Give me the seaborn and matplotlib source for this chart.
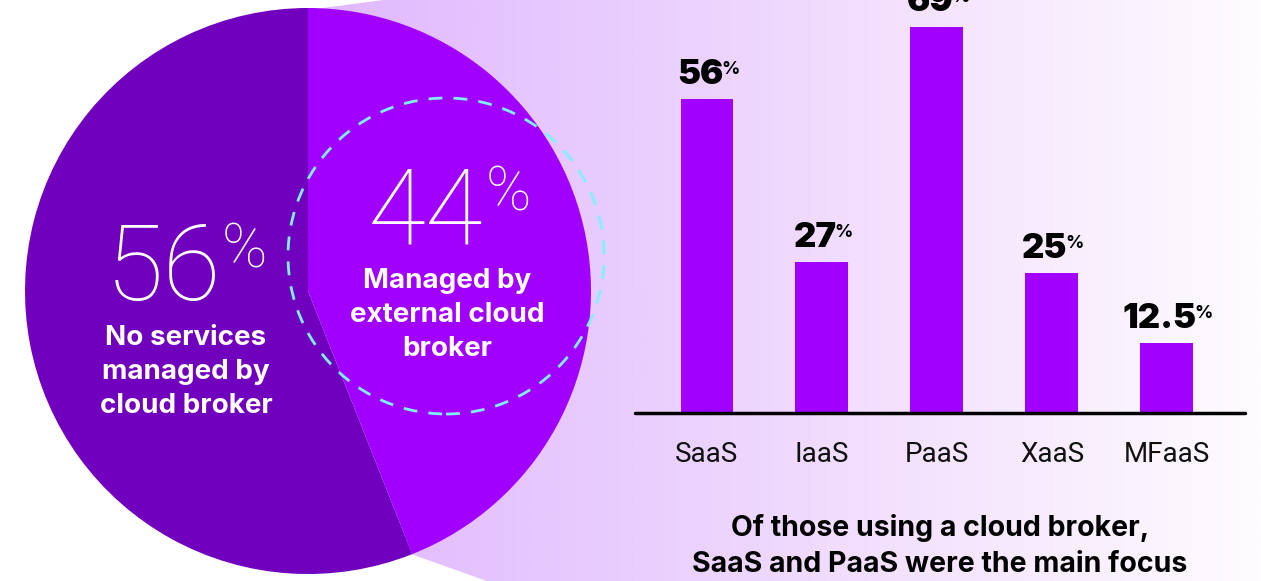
import numpy as np
import seaborn as sns
import matplotlib.pyplot as plt
from matplotlib.patches import Polygon, Circle

sns.set_theme(style="white")
plt.rcParams['font.family'] = ['Inter', 'DejaVu Sans']

# data
pie_labels = ['Managed by\nexternal cloud\nbroker', 'No services\nmanaged by\ncloud broker']
pie_values = [44, 56]
pie_colors = ['#A100FF', '#7000BD']

services = ['SaaS', 'IaaS', 'PaaS', 'XaaS', 'MFaaS']
shares = [56, 27, 69, 25, 12.5]
share_text = ['56', '27', '69', '25', '12.5']

W, H = 1261, 581
fig = plt.figure(figsize=(W / 100, H / 100), dpi=100)
fig.patch.set_facecolor('white')


def fx(x, y):
    # pixel position (from top-left) -> figure fraction
    return x / W, 1 - y / H


# background "zoom cone" with a soft gradient
bg = fig.add_axes([0, 0, 1, 1], zorder=0)
bg.set_xlim(0, W)
bg.set_ylim(H, 0)
bg.axis('off')
xs = np.array([0, 310, 650, 950, 1261])
cols = np.array([[224, 184, 254], [224, 184, 254], [234, 207, 254],
                 [245, 229, 253], [254, 252, 255]]) / 255
grid = np.linspace(0, W, 600)
grad = np.stack([np.interp(grid, xs, cols[:, k]) for k in range(3)], axis=-1)
img = bg.imshow(grad[None, :, :], extent=(0, W, H, 0), aspect='auto')
cone = Polygon([(308, 10), (1300, -122), (1300, 870), (408, 553)],
               closed=True, transform=bg.transData, facecolor='none', edgecolor='none')
bg.add_patch(cone)
img.set_clip_path(cone)

# pie
cx, cy, r = 308, 291, 283
pax = fig.add_axes([(cx - r) / W, (H - cy - r) / H, 2 * r / W, 2 * r / H], zorder=1)
pax.pie(pie_values, colors=pie_colors, startangle=90, counterclock=False,
        wedgeprops=dict(linewidth=0))
pax.set_xlim(-1, 1)
pax.set_ylim(-1, 1)
pax.axis('off')
ring = Circle(((446 - cx) / r, (cy - 256) / r), 158 / r, fill=False,
              edgecolor='#7FF0FF', linewidth=2, linestyle=(0, (5, 4)), clip_on=False)
pax.add_patch(ring)

light = dict(family=['Roboto', 'DejaVu Sans'], fontweight='light', color='white')
bold = dict(fontweight='bold', color='white', ha='center', va='center',
            fontsize=20, linespacing=1.38)

fig.text(*fx(163, 300), str(pie_values[1]), fontsize=76, ha='center', va='baseline', **light)
fig.text(*fx(222, 268), '%', fontsize=44, ha='left', va='baseline', **light)
fig.text(*fx(425, 245), str(pie_values[0]), fontsize=76, ha='center', va='baseline', **light)
fig.text(*fx(486, 210), '%', fontsize=44, ha='left', va='baseline', **light)
fig.text(*fx(186, 372), pie_labels[1], **bold)
fig.text(*fx(447, 315), pie_labels[0], **bold)

# bar chart
x0, x1, base = 635, 1245, 413
bax = fig.add_axes([x0 / W, (H - base) / H, (x1 - x0) / W, base / H], zorder=1)
sns.barplot(x=services, y=shares, color='#A100FF', width=0.46, saturation=1,
            linewidth=0, ax=bax)
bax.set_xlim(-0.626, 4.68)
bax.set_ylim(0, base / 5.6)
bax.set_facecolor('none')
sns.despine(ax=bax, left=True, top=True, right=True, bottom=True)
bax.axhline(0, color='black', linewidth=2.5, clip_on=False)
bax.set_yticks([])
bax.tick_params(axis='x', length=0, pad=20, labelsize=20, labelcolor='#111111')
for lab in bax.get_xticklabels():
    lab.set_family(['Roboto', 'DejaVu Sans'])

for i, (v, s) in enumerate(zip(shares, share_text)):
    t = bax.text(i - 0.06, v + 2.7, s, ha='center', va='baseline', fontsize=25,
                 fontweight='black', color='black', clip_on=False)
    bax.annotate('%', xy=(1, 1), xycoords=t, xytext=(-1.5, -1.5), textcoords='offset points',
                 ha='left', va='top', fontsize=13, fontweight='bold', color='black')

fig.text(*fx(940, 546), 'Of those using a cloud broker,\nSaaS and PaaS were the main focus',
         ha='center', va='center', fontsize=20.5, fontweight='bold', color='black',
         linespacing=1.4)

fig.savefig('out.png', dpi=100)
